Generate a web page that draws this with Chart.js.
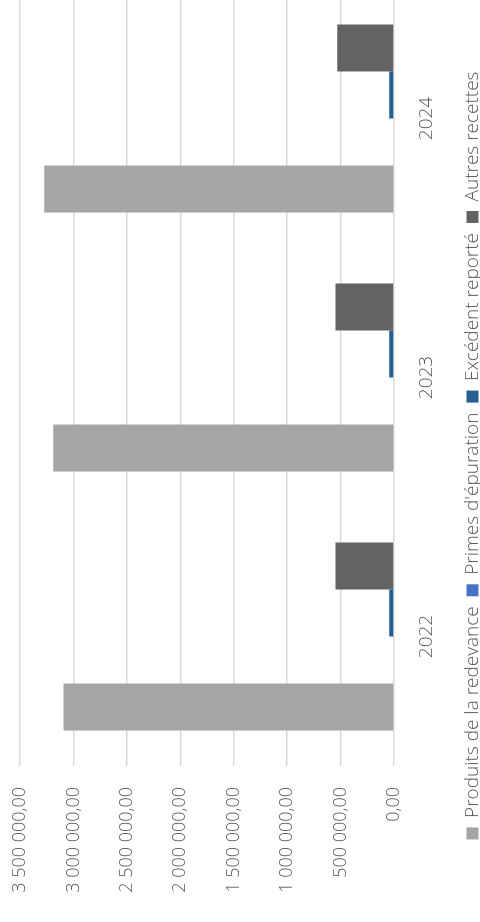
<!DOCTYPE html>
<html>
<head>
<meta charset="utf-8">
<script src="https://cdn.jsdelivr.net/npm/chart.js@4/dist/chart.umd.min.js"></script>
<style>
  html, body { margin: 0; padding: 0; background: #fff; overflow: hidden; width: 480px; height: 922px; }
  /* the chart is drawn upright then turned a quarter turn, like the picture */
  #wrap {
    position: absolute; left: 0; top: 922px;
    width: 940px; height: 500px;
    transform-origin: 0 0; transform: rotate(-90deg);
  }
</style>
</head>
<body>
<div id="wrap"><canvas id="chart" width="940" height="500"></canvas></div>
<script>
const years = ['2022', '2023', '2024'];
const produitsRedevance = [3094000, 3188000, 3272000];
const primesEpuration = [0, 0, 0];
const excedentReporte = [45000, 45000, 44000];
const autresRecettes = [547000, 547000, 531000];
const yTicks = [0, 500000, 1000000, 1500000, 2000000, 2500000, 3000000, 3500000];
const yTickLabels = ['0,00', '500 000,00', '1 000 000,00', '1 500 000,00', '2 000 000,00', '2 500 000,00', '3 000 000,00', '3 500 000,00'];

Chart.defaults.font.family = "'Open Sans', sans-serif";
Chart.defaults.font.weight = 300;
Chart.defaults.font.size = 19;
Chart.defaults.color = '#595959';

const chartData = {
  labels: years,
  datasets: [
    { label: 'Produits de la redevance', data: produitsRedevance, backgroundColor: '#a5a5a5' },
    { label: "Primes d'épuration", data: primesEpuration, backgroundColor: '#4472c4' },
    { label: 'Excédent reporté', data: excedentReporte, backgroundColor: '#255e91' },
    { label: 'Autres recettes', data: autresRecettes, backgroundColor: '#636363' },
  ],
};

new Chart(document.getElementById('chart'), {
  type: 'bar',
  data: chartData,
  options: {
    responsive: false,
    animation: false,
    devicePixelRatio: 1,
    datasets: { bar: { barPercentage: 1, categoryPercentage: 0.726 } },
    layout: { padding: { top: 20, right: 7, bottom: 8, left: 0 } },
    plugins: {
      tooltip: { enabled: false },
      legend: {
        position: 'bottom',
        labels: { boxWidth: 12, boxHeight: 12, padding: 10 },
      },
    },
    scales: {
      x: {
        grid: { display: false },
        border: { display: false },
        ticks: { padding: 13 },
        afterFit: scale => { scale.height = 59; },
      },
      y: {
        min: 0,
        max: 3500000,
        grid: { color: '#d9d9d9', lineWidth: 1.5, drawTicks: false },
        border: { display: false },
        ticks: {
          stepSize: 500000,
          padding: 21,
          font: { size: 18 },
          callback: (v) => yTickLabels[yTicks.indexOf(v)],
        },
        afterFit: scale => {
          scale.width = 156;
          scale.paddingTop = 0;
          scale.paddingBottom = 0;
        },
      },
    },
  },
});
</script>
</body>
</html>
